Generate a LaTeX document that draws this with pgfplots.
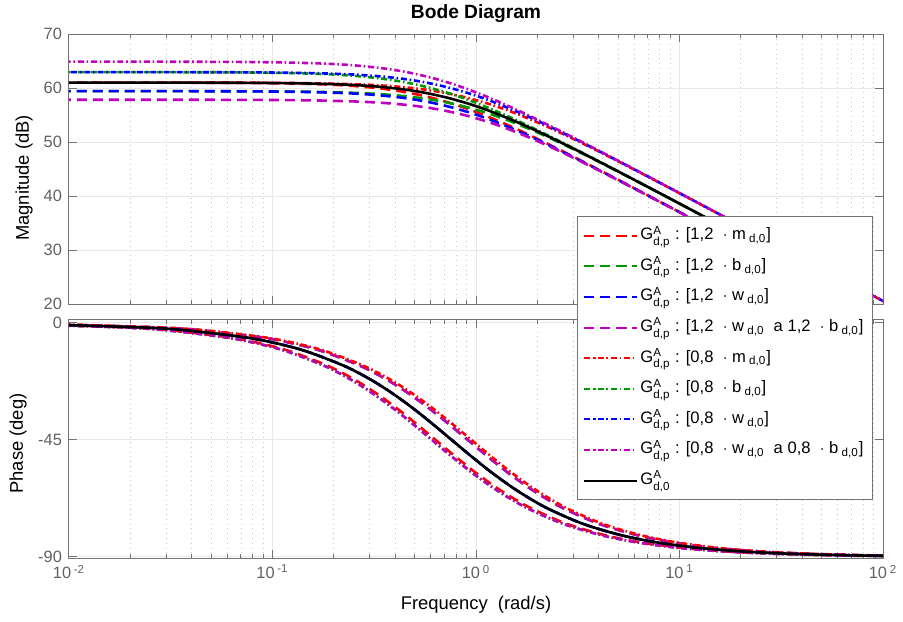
\documentclass[border=0pt]{standalone}
\usepackage{pgfplots}
\pgfplotsset{compat=1.18}
\usepackage{pgfplotstable}
\usepackage{amsmath}
\usepackage{fontspec}
\setmainfont{Liberation Sans}

\definecolor{mred}{rgb}{1,0,0}
\definecolor{mgreen}{rgb}{0,0.6,0}
\definecolor{mblue}{rgb}{0,0,1}
\definecolor{mmag}{rgb}{0.75,0,0.75}
\definecolor{axgray}{gray}{0.45}
\definecolor{tkgray}{gray}{0.38}

% corner 0.76 rad/s: G_d,0 (mA), 1.2 w (mB), 0.8 w (mC)
\pgfplotstableread{
w mA mB mC ph
0.0076 61.00 59.42 62.94 -0.57
0.0228 61.00 59.42 62.94 -1.72
0.038 60.99 59.41 62.93 -2.86
0.076 60.96 59.38 62.90 -5.71
0.114 60.90 59.32 62.84 -8.53
0.152 60.83 59.25 62.77 -11.31
0.228 60.63 59.05 62.57 -16.70
0.304 60.36 58.78 62.30 -21.80
0.38 60.03 58.45 61.97 -26.57
0.456 59.67 58.09 61.61 -30.96
0.532 59.27 57.69 61.21 -34.99
0.608 58.85 57.27 60.79 -38.66
0.684 58.42 56.84 60.36 -41.99
0.76 57.99 56.41 59.93 -45.00
0.912 57.13 55.55 59.07 -50.19
1.064 56.29 54.71 58.23 -54.46
1.216 55.49 53.91 57.43 -58.00
1.52 54.01 52.43 55.95 -63.43
1.9 52.40 50.82 54.34 -68.20
2.28 51.00 49.42 52.94 -71.57
3.04 48.70 47.12 50.64 -75.96
3.8 46.85 45.27 48.79 -78.69
5.32 44.01 42.43 45.95 -81.87
7.6 40.96 39.38 42.90 -84.29
11.4 37.46 35.88 39.40 -86.19
15.2 34.97 33.39 36.91 -87.14
22.8 31.45 29.87 33.39 -88.09
38 27.02 25.44 28.96 -88.85
76 21.00 19.42 22.94 -89.43
152 14.98 13.40 16.92 -89.71
}\tZero

% corner 0.912: 1.2 b (mA), 1.2 w + 1.2 b (mB)
\pgfplotstableread{
w mA mB ph
0.00912 59.42 57.83 -0.57
0.02736 59.42 57.83 -1.72
0.0456 59.41 57.82 -2.86
0.0912 59.38 57.79 -5.71
0.1368 59.32 57.73 -8.53
0.1824 59.25 57.66 -11.31
0.2736 59.05 57.46 -16.70
0.3648 58.78 57.19 -21.80
0.456 58.45 56.86 -26.57
0.5472 58.09 56.50 -30.96
0.6384 57.69 56.10 -34.99
0.7296 57.27 55.68 -38.66
0.8208 56.84 55.25 -41.99
0.912 56.41 54.82 -45.00
1.0944 55.55 53.96 -50.19
1.2768 54.71 53.12 -54.46
1.4592 53.91 52.32 -58.00
1.824 52.43 50.84 -63.43
2.28 50.82 49.23 -68.20
2.736 49.42 47.83 -71.57
3.648 47.12 45.53 -75.96
4.56 45.27 43.68 -78.69
6.384 42.43 40.84 -81.87
9.12 39.38 37.79 -84.29
13.68 35.88 34.29 -86.19
18.24 33.39 31.80 -87.14
27.36 29.87 28.28 -88.09
45.6 25.44 23.85 -88.85
91.2 19.42 17.83 -89.43
182.4 13.40 11.81 -89.71
}\tUp

% corner 0.95: 0.8 m
\pgfplotstableread{
w mA ph
0.0095 61.00 -0.57
0.0285 61.00 -1.72
0.0475 60.99 -2.86
0.095 60.96 -5.71
0.1425 60.90 -8.53
0.19 60.83 -11.31
0.285 60.63 -16.70
0.38 60.36 -21.80
0.475 60.03 -26.57
0.57 59.67 -30.96
0.665 59.27 -34.99
0.76 58.85 -38.66
0.855 58.42 -41.99
0.95 57.99 -45.00
1.14 57.13 -50.19
1.33 56.29 -54.46
1.52 55.49 -58.00
1.9 54.01 -63.43
2.375 52.40 -68.20
2.85 51.00 -71.57
3.8 48.70 -75.96
4.75 46.85 -78.69
6.65 44.01 -81.87
9.5 40.96 -84.29
14.25 37.46 -86.19
19 34.97 -87.14
28.5 31.45 -88.09
47.5 27.02 -88.85
95 21.00 -89.43
190 14.98 -89.71
}\tRedDD

% corner 0.6333: 1.2 m
\pgfplotstableread{
w mA ph
0.006333 61.00 -0.57
0.019 61.00 -1.72
0.03167 60.99 -2.86
0.06333 60.96 -5.71
0.095 60.90 -8.53
0.12667 60.83 -11.31
0.19 60.63 -16.70
0.25333 60.36 -21.80
0.31667 60.03 -26.57
0.38 59.67 -30.96
0.44333 59.27 -34.99
0.50667 58.85 -38.66
0.57 58.42 -41.99
0.63333 57.99 -45.00
0.76 57.13 -50.19
0.88667 56.29 -54.46
1.01333 55.49 -58.00
1.26667 54.01 -63.43
1.58333 52.40 -68.20
1.9 51.00 -71.57
2.53333 48.70 -75.96
3.16667 46.85 -78.69
4.43333 44.01 -81.87
6.33333 40.96 -84.29
9.5 37.46 -86.19
12.6667 34.97 -87.14
19 31.45 -88.09
31.6667 27.02 -88.85
63.3333 21.00 -89.43
126.667 14.98 -89.71
}\tRedDash

% corner 0.608: 0.8 b (mA), 0.8 w + 0.8 b (mB)
\pgfplotstableread{
w mA mB ph
0.00608 62.94 64.88 -0.57
0.01824 62.94 64.88 -1.72
0.0304 62.93 64.87 -2.86
0.0608 62.90 64.84 -5.71
0.0912 62.84 64.78 -8.53
0.1216 62.77 64.71 -11.31
0.1824 62.57 64.51 -16.70
0.2432 62.30 64.24 -21.80
0.304 61.97 63.91 -26.57
0.3648 61.61 63.55 -30.96
0.4256 61.21 63.15 -34.99
0.4864 60.79 62.73 -38.66
0.5472 60.36 62.30 -41.99
0.608 59.93 61.87 -45.00
0.7296 59.07 61.01 -50.19
0.8512 58.23 60.17 -54.46
0.9728 57.43 59.37 -58.00
1.216 55.95 57.89 -63.43
1.52 54.34 56.28 -68.20
1.824 52.94 54.88 -71.57
2.432 50.64 52.58 -75.96
3.04 48.79 50.73 -78.69
4.256 45.95 47.89 -81.87
6.08 42.90 44.84 -84.29
9.12 39.40 41.34 -86.19
12.16 36.91 38.85 -87.14
18.24 33.39 35.33 -88.09
30.4 28.96 30.90 -88.85
60.8 22.94 24.88 -89.43
121.6 16.92 18.86 -89.71
}\tDown

\tikzset{
  mdash/.style={dash pattern=on 5pt off 3pt},
  mdd/.style={dash pattern=on 3pt off 1.4pt on 0.8pt off 1.4pt},
}
\pgfplotsset{
  every axis/.append style={
    scale only axis, width=407pt,
    xmajorgrids, xminorgrids, ymajorgrids,
    major grid style={gray!18, line width=0.5pt},
    minor grid style={gray!45, dotted, line width=0.4pt},
    axis line style={axgray, line width=0.5pt},
    tick style={axgray, line width=0.5pt},
    tick align=inside, major tick length=4pt, minor tick length=2pt,
    ticklabel style={font=\fontsize{8.2}{9.5}\selectfont, text=tkgray},
  },
  every axis plot/.append style={line width=1.3pt, smooth},
}

\newcommand{\Gp}{G$^{\text{A}}_{\text{d,p}}$}

\begin{document}
\begin{tikzpicture}
\path[use as bounding box] (0pt,0pt) rectangle (451.5pt,310.5pt);

% phase
\begin{axis}[at={(34.5pt,31.5pt)}, anchor=south west, height=119pt,
  xmode=log, xmin=0.01, xmax=100,
  xtick={0.01,0.1,1,10,100},
  minor xtick={0.02,0.03,0.04,0.05,0.06,0.07,0.08,0.09,
    0.2,0.3,0.4,0.5,0.6,0.7,0.8,0.9,2,3,4,5,6,7,8,9,
    20,30,40,50,60,70,80,90},
  ymin=-90.4, ymax=1.15, ytick={-90,-45,0},
  yticklabels={-90,-45,0},
  xticklabels={10\,$^{\text{-2}}$,10\,$^{\text{-1}}$,10\,$^{\text{0}}$,10\,$^{\text{1}}$,10\,$^{\text{2}}$}]
\addplot[mred, mdash] table[x=w, y=ph] {\tRedDash};
\addplot[mgreen, mdash] table[x=w, y=ph] {\tUp};
\addplot[mblue, mdash] table[x=w, y=ph] {\tZero};
\addplot[mmag, mdash] table[x=w, y=ph] {\tUp};
\addplot[mred, mdd] table[x=w, y=ph] {\tRedDD};
\addplot[mgreen, mdd] table[x=w, y=ph] {\tDown};
\addplot[mblue, mdd] table[x=w, y=ph] {\tZero};
\addplot[mmag, mdd] table[x=w, y=ph] {\tDown};
\addplot[black] table[x=w, y=ph] {\tZero};
\end{axis}

% magnitude
\begin{axis}[at={(34.5pt,158.5pt)}, anchor=south west, height=135pt,
  xmode=log, xmin=0.01, xmax=100,
  xtick={0.01,0.1,1,10,100},
  minor xtick={0.02,0.03,0.04,0.05,0.06,0.07,0.08,0.09,
    0.2,0.3,0.4,0.5,0.6,0.7,0.8,0.9,2,3,4,5,6,7,8,9,
    20,30,40,50,60,70,80,90},
  ymin=20, ymax=70, ytick={20,30,40,50,60,70},
  yticklabels={20,30,40,50,60,70}, xticklabels={},
  legend cell align=left,
  legend image code/.code={\draw[mark repeat=2,mark phase=2,#1]
    plot coordinates {(6pt,0pt) (19pt,0pt) (32pt,0pt)};},
  legend image post style={line width=1pt},
  legend style={at={(0.624,0.326)}, anchor=north west,
    draw=black!55, line width=0.5pt, fill=white,
    font=\fontsize{8.3}{10}\selectfont,
    nodes={text height=7.5pt, text depth=3.6pt, inner ysep=2.1pt, inner xsep=1.5pt}}]
\addplot[color=mred, mdash] table[x=w, y=mA] {\tRedDash};
\addlegendentry{\Gp\ : [1,2 \ $\cdot$ m$_{\text{ d,0}}$]}
\addplot[color=mgreen, mdash] table[x=w, y=mA] {\tUp};
\addlegendentry{\Gp\ : [1,2 \ $\cdot$ b$_{\text{ d,0}}$]}
\addplot[color=mblue, mdash] table[x=w, y=mB] {\tZero};
\addlegendentry{\Gp\ : [1,2 \ $\cdot$ w$_{\text{ d,0}}$]}
\addplot[color=mmag, mdash] table[x=w, y=mB] {\tUp};
\addlegendentry{\Gp\ : [1,2 \ $\cdot$ w$_{\text{ d,0}}$ \ a 1,2 \ $\cdot$ b$_{\text{ d,0}}$]}
\addplot[color=mred, mdd] table[x=w, y=mA] {\tRedDD};
\addlegendentry{\Gp\ : [0,8 \ $\cdot$ m$_{\text{ d,0}}$]}
\addplot[color=mgreen, mdd] table[x=w, y=mA] {\tDown};
\addlegendentry{\Gp\ : [0,8 \ $\cdot$ b$_{\text{ d,0}}$]}
\addplot[color=mblue, mdd] table[x=w, y=mC] {\tZero};
\addlegendentry{\Gp\ : [0,8 \ $\cdot$ w$_{\text{ d,0}}$]}
\addplot[color=mmag, mdd] table[x=w, y=mB] {\tDown};
\addlegendentry{\Gp\ : [0,8 \ $\cdot$ w$_{\text{ d,0}}$ \ a 0,8 \ $\cdot$ b$_{\text{ d,0}}$]}
\addplot[color=black] table[x=w, y=mA] {\tZero};
\addlegendentry{G$^{\text{A}}_{\text{d,0}}$}
\end{axis}

\node[font=\bfseries\fontsize{9.6}{11}\selectfont] at (238pt,303.5pt) {Bode Diagram};
\node[font=\fontsize{9.2}{11}\selectfont] at (238pt,8pt) {Frequency \ (rad/s)};
\node[font=\fontsize{9.2}{11}\selectfont, rotate=90] at (12pt,221.5pt) {Magnitude (dB)};
\node[font=\fontsize{9.2}{11}\selectfont, rotate=90] at (9pt,88.75pt) {Phase (deg)};
\end{tikzpicture}
\end{document}
